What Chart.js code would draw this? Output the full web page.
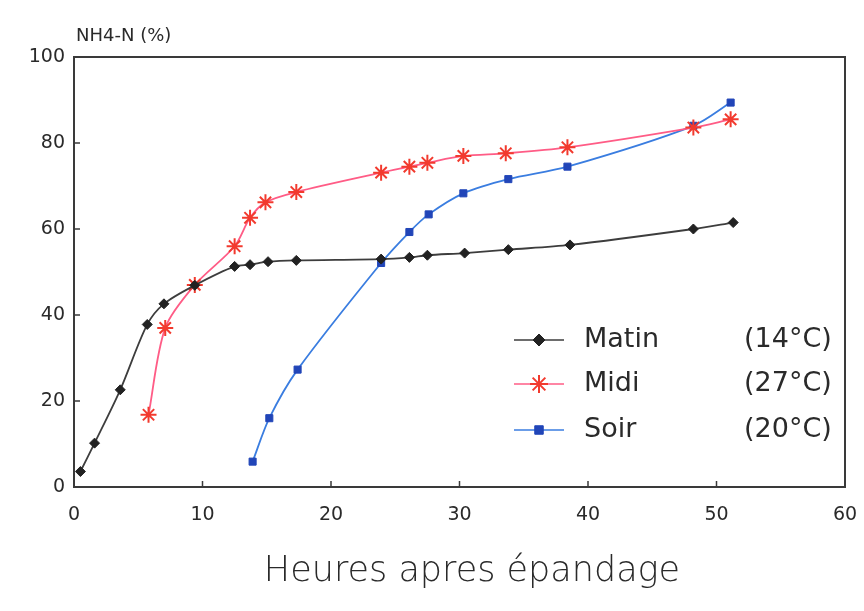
<!DOCTYPE html>
<html>
<head>
<meta charset="utf-8">
<script src="https://cdn.jsdelivr.net/npm/chart.js@4/dist/chart.umd.min.js"></script>
<style>
  html, body { margin: 0; padding: 0; background: #fff; }
  #wrap { width: 864px; height: 611px; }
</style>
</head>
<body>
<div id="wrap"><canvas id="chart" width="864" height="611"></canvas></div>
<script>
// Valeurs (heures, % NH4-N)
const matinX = [0.5, 1.6, 3.6, 5.7, 7.0, 9.4, 12.5, 13.7, 15.1, 17.3, 23.9, 26.1, 27.5, 30.4, 33.8, 38.6, 48.2, 51.3];
const matinY = [3.6, 10.2, 22.6, 37.8, 42.6, 46.9, 51.3, 51.7, 52.4, 52.7, 53.0, 53.4, 53.9, 54.4, 55.2, 56.3, 60.0, 61.5];

const midiX = [5.8, 7.1, 9.4, 12.5, 13.7, 14.9, 17.3, 23.9, 26.1, 27.5, 30.3, 33.6, 38.4, 48.2, 51.1];
const midiY = [16.8, 37.0, 47.0, 56.0, 62.6, 66.2, 68.6, 73.1, 74.5, 75.4, 77.0, 77.6, 79.0, 83.6, 85.5];

const soirX = [13.9, 15.2, 17.4, 23.9, 26.1, 27.6, 30.3, 33.8, 38.4, 48.2, 51.1];
const soirY = [5.9, 16.0, 27.3, 52.1, 59.3, 63.4, 68.3, 71.6, 74.5, 84.0, 89.4];

const seriesNames = ["Matin", "Midi", "Soir"];
const seriesTemps = ["(14°C)", "(27°C)", "(20°C)"];

const xTitle = "Heures apres épandage";
const yTitle = "NH4-N (%)";

const FONT = "'DejaVu Sans', sans-serif";

const toPoints = (xs, ys) => xs.map((x, i) => ({ x: x, y: ys[i] }));

// cadre complet + petites graduations vers l'interieur + titres + legende
const decor = {
    id: 'decor',
    afterDraw(chart) {
        const { ctx, chartArea: a, scales } = chart;
        ctx.save();
        ctx.strokeStyle = '#3a3a3a';
        ctx.lineWidth = 2;
        ctx.strokeRect(a.left, a.top, a.right - a.left, a.bottom - a.top);

        ctx.lineWidth = 1.5;
        scales.x.ticks.forEach(t => {
            const px = scales.x.getPixelForValue(t.value);
            ctx.beginPath(); ctx.moveTo(px, a.bottom); ctx.lineTo(px, a.bottom - 6); ctx.stroke();
        });
        scales.y.ticks.forEach(t => {
            const py = scales.y.getPixelForValue(t.value);
            ctx.beginPath(); ctx.moveTo(a.left, py); ctx.lineTo(a.left + 6, py); ctx.stroke();
        });

        // titres
        ctx.fillStyle = '#2a2a2a';
        ctx.font = "18px " + FONT;
        ctx.textAlign = 'left';
        ctx.textBaseline = 'middle';
        ctx.fillText(yTitle, 76, 36);

        ctx.font = "300 35px " + FONT;
        ctx.textAlign = 'center';
        ctx.fillText(xTitle, 472, 572);

        // legende dans le cadre
        const rows = [340, 384, 430];
        chart.data.datasets.forEach((ds, i) => {
            const y = rows[i];
            ctx.strokeStyle = ds.borderColor;
            ctx.lineWidth = 1.5;
            ctx.beginPath(); ctx.moveTo(514, y); ctx.lineTo(564, y); ctx.stroke();
            ctx.fillStyle = ds.pointBackgroundColor;
            ctx.strokeStyle = ds.pointBorderColor;
            ctx.lineWidth = ds.pointBorderWidth;
            Chart.helpers.drawPoint(ctx, {
                pointStyle: ds.pointStyle, radius: ds.pointRadius + 1,
                rotation: 0, borderWidth: ds.pointBorderWidth
            }, 539, y);
            ctx.fillStyle = '#2a2a2a';
            ctx.font = "27px " + FONT;
            ctx.textAlign = 'left';
            ctx.fillText(seriesNames[i], 584, y);
            ctx.fillText(seriesTemps[i], 744, y);
        });
        ctx.restore();
    }
};

new Chart(document.getElementById('chart'), {
    type: 'line',
    data: {
        datasets: [{
            label: seriesNames[0],
            data: toPoints(matinX, matinY),
            borderColor: '#3d3d3d',
            borderWidth: 1.8,
            pointStyle: 'rectRot',
            pointRadius: 5,
            pointBackgroundColor: '#222',
            pointBorderColor: '#222',
            pointBorderWidth: 1,
            tension: 0.3
        }, {
            label: seriesNames[1],
            data: toPoints(midiX, midiY),
            borderColor: '#ff5c86',
            borderWidth: 1.8,
            pointStyle: 'star',
            pointRadius: 8,
            pointBackgroundColor: '#f23a2e',
            pointBorderColor: '#f23a2e',
            pointBorderWidth: 2,
            tension: 0.3
        }, {
            label: seriesNames[2],
            data: toPoints(soirX, soirY),
            borderColor: '#3a7de0',
            borderWidth: 1.8,
            pointStyle: 'rect',
            pointRadius: 5,
            pointBackgroundColor: '#2145b8',
            pointBorderColor: '#2145b8',
            pointBorderWidth: 1,
            tension: 0.3
        }]
    },
    options: {
        responsive: false,
        animation: false,
        layout: { padding: { top: 57, right: 19, left: 0, bottom: 0 } },
        plugins: { legend: { display: false }, tooltip: { enabled: false } },
        scales: {
            x: {
                type: 'linear', min: 0, max: 60,
                grid: { display: false, drawTicks: false },
                border: { display: false },
                ticks: { stepSize: 10, padding: 17, color: '#2a2a2a', font: { family: FONT, size: 19 } },
                afterFit: s => { s.height = 124; s.paddingLeft = 0; s.paddingRight = 0; }
            },
            y: {
                min: 0, max: 100,
                grid: { display: false, drawTicks: false },
                border: { display: false },
                ticks: { stepSize: 20, padding: 9, color: '#2a2a2a', font: { family: FONT, size: 19 } },
                afterFit: s => { s.width = 74; s.paddingTop = 0; s.paddingBottom = 0; }
            }
        }
    },
    plugins: [decor]
});
</script>
</body>
</html>
